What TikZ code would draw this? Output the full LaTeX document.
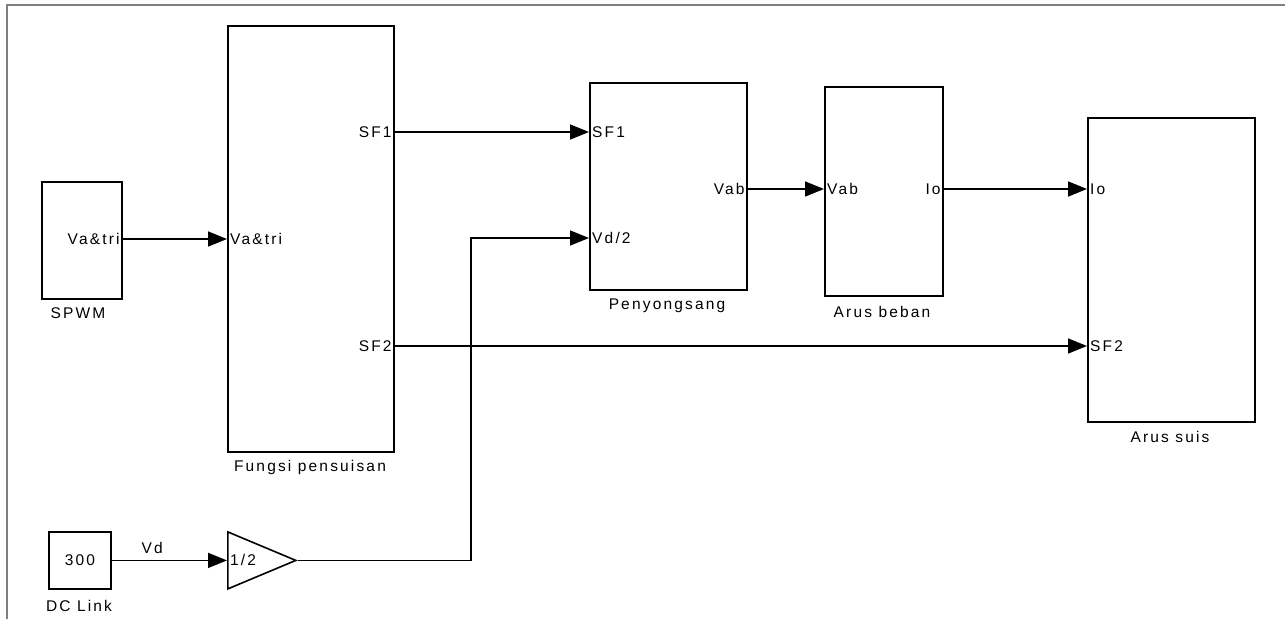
\documentclass[tikz,border=0pt]{standalone}
\usepackage{fontspec}
\setmainfont{Liberation Sans}[LetterSpace=14]
\usetikzlibrary{arrows.meta,shapes.geometric}
\tikzset{
  blok/.style={draw,line width=1.8pt,anchor=north west,inner sep=0pt},
  port/.style={font=\fontsize{15.5}{17}\selectfont,inner sep=3pt},
  judul/.style={font=\fontsize{15.5}{17}\selectfont,inner sep=0pt},
  sinyal/.style={line width=1.6pt,-{Triangle[length=19pt,width=15pt]}},
}
\begin{document}
\begin{tikzpicture}[x=1pt,y=-1pt]
    \useasboundingbox (0,0) rectangle (1285,619);
    % bingkai kanvas
    \draw[gray,line width=2pt] (7,619) -- (7,5) -- (1285,5);
    % blok-blok
    \node[blok,minimum width=80,minimum height=117] (spwm) at (41,181) {};
    \node[blok,minimum width=166,minimum height=426] (fgs) at (227,25) {};
    \node[blok,minimum width=157,minimum height=207] (peny) at (589,82) {};
    \node[blok,minimum width=118,minimum height=209] (beban) at (824,86) {};
    \node[blok,minimum width=167,minimum height=304] (suis) at (1087,117) {};
    \node[blok,minimum width=62,minimum height=57] (dclink) at (48,531) {};
    \node[draw,line width=1.6pt,isosceles triangle,isosceles triangle stretches,
      minimum width=57,minimum height=68,inner sep=0pt,anchor=lower side]
      (gain) at (dclink.east -| 227,0) {};
    % nama blok
    \node[judul] (tSpwm) at (78,313) {SPWM};
    \node[judul] (tFgs) at (310,467) {Fungsi pensuisan};
    \node[judul] (tPeny) at (667,306) {Penyongsang};
    \node[judul] (tBeban) at (882,312) {Arus beban};
    \node[judul] (tSuis) at (1170,437) {Arus suis};
    \node[judul] (tDc) at (79,606) {DC Link};
    \node[port] (c300) at (dclink) {300};
    % port keluar / masuk
    \node[port,anchor=east] (oSpwm) at (spwm.east |- 0,239) {Va\&tri};
    \node[port,anchor=west] (iFgs) at (fgs.west |- 0,239) {Va\&tri};
    \node[port,anchor=east] (oSF1) at (fgs.east |- 0,132) {SF1};
    \node[port,anchor=east] (oSF2) at (fgs.east |- 0,346) {SF2};
    \node[port,anchor=west] (iSF1) at (peny.west |- 0,132) {SF1};
    \node[port,anchor=west] (iVd) at (peny.west |- 0,238) {Vd/2};
    \node[port,anchor=east] (oVab) at (peny.east |- 0,189) {Vab};
    \node[port,anchor=west] (iVab) at (beban.west |- 0,189) {Vab};
    \node[port,anchor=east] (oIo) at (beban.east |- 0,189) {Io};
    \node[port,anchor=west] (iIo) at (suis.west |- 0,189) {Io};
    \node[port,anchor=west] (iSF2) at (suis.west |- 0,346) {SF2};
    \node[port,anchor=west] (iGain) at (gain.lower side) {1/2};
    % sambungan
    \draw[sinyal] (oSpwm.east) -- (iFgs.west);
    \draw[sinyal] (oSF1.east) -- (iSF1.west);
    \draw[sinyal] (oSF2.east) -- (iSF2.west);
    \draw[sinyal] (oVab.east) -- (iVab.west);
    \draw[sinyal] (oIo.east) -- (iIo.west);
    \draw[sinyal] (dclink.east) -- node[judul,above=6pt,pos=0.35] (tVd) {Vd} (gain.lower side);
    \draw[sinyal] (gain.apex) -| (471,238) -- (iVd.west);
  \end{tikzpicture}
\end{document}
